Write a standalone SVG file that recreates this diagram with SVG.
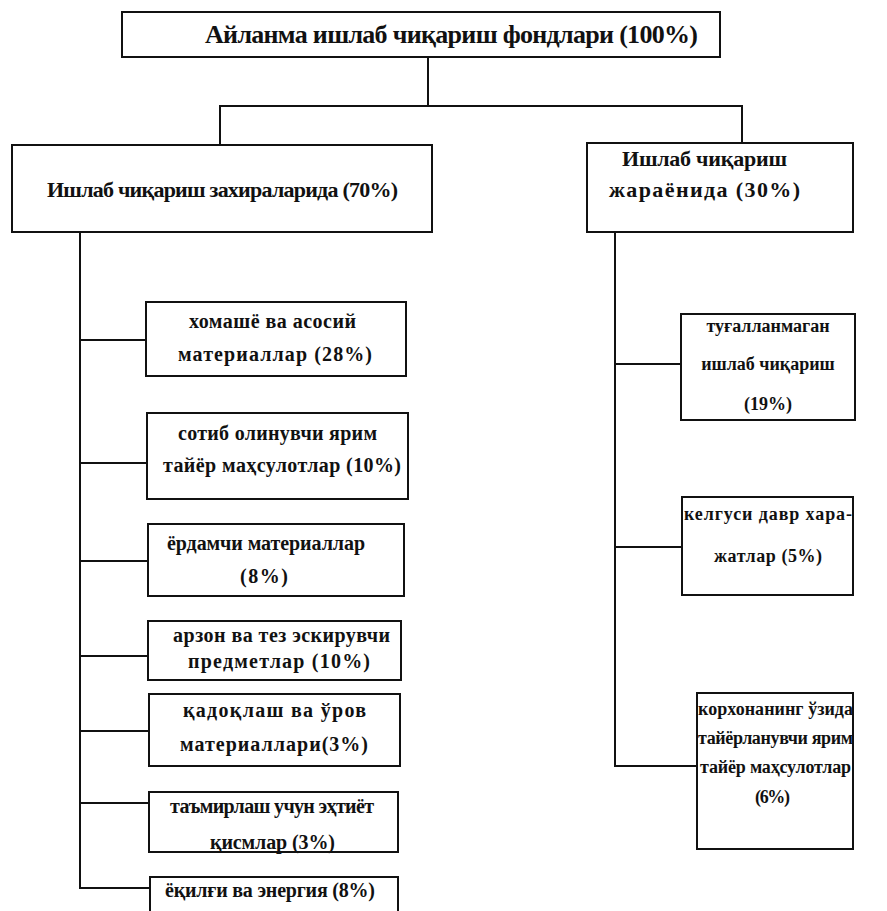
<svg xmlns="http://www.w3.org/2000/svg" width="887" height="911" viewBox="0 0 887 911">
<style>
.box{fill:#fff;stroke:#111;stroke-width:2}
.ln{fill:none;stroke:#111;stroke-width:2}
text{font-family:"Liberation Serif","DejaVu Serif",serif;font-weight:bold;fill:#111}
.t1{font-size:26px}
.t2{font-size:22px}
.t3{font-size:20px}
.t4{font-size:18px}
.mid{text-anchor:middle}
</style>
<rect width="887" height="911" fill="#fff"/>
<g id="connectors">
<polyline class="ln" points="428,57 428,106"/>
<polyline class="ln" points="220,145 220,106 742,106 742,143"/>
<polyline class="ln" points="80,232 80,888 150,888"/>
<line class="ln" x1="80" y1="340" x2="146" y2="340"/>
<line class="ln" x1="80" y1="463" x2="147" y2="463"/>
<line class="ln" x1="80" y1="561" x2="148" y2="561"/>
<line class="ln" x1="80" y1="656" x2="148" y2="656"/>
<line class="ln" x1="80" y1="731" x2="149" y2="731"/>
<line class="ln" x1="80" y1="803" x2="149" y2="803"/>
<polyline class="ln" points="615,232 615,766 697,766"/>
<line class="ln" x1="615" y1="364" x2="681" y2="364"/>
<line class="ln" x1="615" y1="547" x2="682" y2="547"/>
</g>
<g id="root">
<rect class="box" x="122" y="12" width="598" height="45"/>
<text class="t1" x="205" y="43" textLength="493" lengthAdjust="spacing">Айланма ишлаб чиқариш фондлари (100%)</text>
</g>
<g id="reserves">
<rect class="box" x="12" y="145" width="420" height="87"/>
<text class="t2" x="47" y="197" textLength="351" lengthAdjust="spacing">Ишлаб чиқариш захираларида (70%)</text>
</g>
<g id="process">
<rect class="box" x="587" y="143" width="266" height="89"/>
<text class="t2" x="622" y="166" textLength="165" lengthAdjust="spacing">Ишлаб чиқариш</text>
<text class="t2" x="609" y="197" textLength="191" lengthAdjust="spacing">жараёнида (30%)</text>
</g>
<g id="n1">
<rect class="box" x="146" y="302" width="260" height="74"/>
<text class="t3" x="189" y="328" textLength="167" lengthAdjust="spacing">хомашё ва асосий</text>
<text class="t3" x="178" y="361" textLength="194" lengthAdjust="spacing">материаллар (28%)</text>
</g>
<g id="n2">
<rect class="box" x="147" y="413" width="261" height="86"/>
<text class="t3" x="178" y="440" textLength="199" lengthAdjust="spacing">сотиб олинувчи ярим</text>
<text class="t3" x="163" y="472" textLength="238" lengthAdjust="spacing">тайёр маҳсулотлар (10%)</text>
</g>
<g id="n3">
<rect class="box" x="148" y="524" width="256" height="72"/>
<text class="t3" x="167" y="550" textLength="198" lengthAdjust="spacing">ёрдамчи материаллар</text>
<text class="t3" x="240" y="583" textLength="48" lengthAdjust="spacing">(8%)</text>
</g>
<g id="n4">
<rect class="box" x="148" y="621" width="253" height="59"/>
<text class="t3" x="173" y="642" textLength="217" lengthAdjust="spacing">арзон ва тез эскирувчи</text>
<text class="t3" x="188" y="668" textLength="182" lengthAdjust="spacing">предметлар (10%)</text>
</g>
<g id="n5">
<rect class="box" x="149" y="694" width="251" height="72"/>
<text class="t3" x="183" y="717" textLength="183" lengthAdjust="spacing">қадоқлаш ва ўров</text>
<text class="t3" x="180" y="751" textLength="188" lengthAdjust="spacing">материаллари(3%)</text>
</g>
<g id="n6">
<rect class="box" x="149" y="792" width="249" height="60"/>
<text class="t3" x="170" y="813" textLength="204" lengthAdjust="spacing">таъмирлаш учун эҳтиёт</text>
<text class="t3" x="210" y="849" textLength="125" lengthAdjust="spacing">қисмлар (3%)</text>
</g>
<g id="n7">
<rect class="box" x="150" y="877" width="248" height="40"/>
<text class="t3" x="165" y="897" textLength="210" lengthAdjust="spacing">ёқилғи ва энергия (8%)</text>
</g>
<g id="r1">
<rect class="box" x="681" y="314" width="174" height="106"/>
<text class="t4 mid" x="768" y="332">туғалланмаган</text>
<text class="t4 mid" x="768" y="370">ишлаб чиқариш</text>
<text class="t4 mid" x="768" y="410">(19%)</text>
</g>
<g id="r2">
<rect class="box" x="682" y="497" width="171" height="98"/>
<text class="t4" x="684" y="520" textLength="168" lengthAdjust="spacing">келгуси давр хара-</text>
<text class="t4" x="714" y="562" textLength="108" lengthAdjust="spacing">жатлар (5%)</text>
</g>
<g id="r3">
<rect class="box" x="697" y="693" width="156" height="156"/>
<text class="t4" x="698" y="715" textLength="155" lengthAdjust="spacing">корхонанинг ўзида</text>
<text class="t4" x="698" y="744" textLength="155" lengthAdjust="spacing">тайёрланувчи ярим</text>
<text class="t4" x="700" y="773" textLength="151" lengthAdjust="spacing">тайёр маҳсулотлар</text>
<text class="t4" x="755" y="803" textLength="35" lengthAdjust="spacing">(6%)</text>
</g>
</svg>
